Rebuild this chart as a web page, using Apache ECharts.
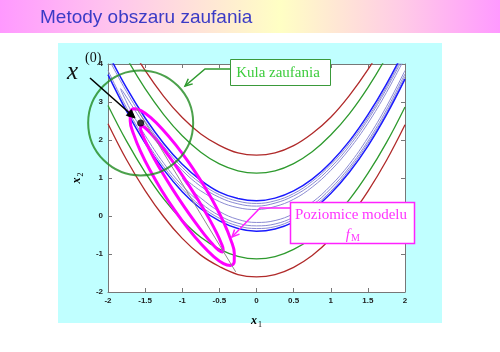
<!DOCTYPE html>
<html>
<head>
<meta charset="utf-8">
<script src="https://cdn.jsdelivr.net/npm/echarts@6/dist/echarts.min.js"></script>
<style>
html, body { margin: 0; padding: 0; background: #fff; }
#chart { width: 500px; height: 352px; }
</style>
</head>
<body>
<div id="chart"></div>
<script>
// wartosci x1, w ktorych odczytano poziomice
var x1Grid = [-2, -1.75, -1.5, -1.25, -1, -0.75, -0.5, -0.25, 0, 0.25, 0.5, 0.75, 1, 1.25, 1.5, 1.75, 2];

// poziomice funkcji
var redUpper   = [5.57, 4.64, 3.83, 3.15, 2.59, 2.16, 1.86, 1.66, 1.60, 1.66, 1.85, 2.17, 2.60, 3.17, 3.85, 4.66, 5.60];
var redLower   = [2.43, 1.48, 0.67, -0.02, -0.59, -1.03, -1.33, -1.54, -1.60, -1.54, -1.35, -1.04, -0.60, -0.04, 0.65, 1.46, 2.40];
var greenUpper = [5.09, 4.16, 3.35, 2.67, 2.11, 1.68, 1.37, 1.19, 1.13, 1.19, 1.38, 1.69, 2.13, 2.69, 3.38, 4.19, 5.13];
var greenLower = [2.91, 1.97, 1.15, 0.45, -0.11, -0.56, -0.87, -1.06, -1.13, -1.07, -0.88, -0.57, -0.13, 0.43, 1.12, 1.93, 2.87];
var blueUpper  = [4.28, 3.37, 2.58, 1.91, 1.36, 0.94, 0.63, 0.46, 0.40, 0.47, 0.66, 0.97, 1.41, 1.97, 2.66, 3.47, 4.40];
var blueLower  = [3.72, 2.76, 1.92, 1.22, 0.64, 0.19, -0.13, -0.33, -0.40, -0.34, -0.16, 0.15, 0.59, 1.15, 1.84, 2.66, 3.60];
var lavUpper   = [4.17, 3.27, 2.49, 1.83, 1.28, 0.86, 0.56, 0.39, 0.33, 0.40, 0.59, 0.91, 1.35, 1.91, 2.59, 3.40, 4.33];
var lavLower   = [3.83, 2.85, 2.01, 1.30, 0.72, 0.26, -0.06, -0.26, -0.33, -0.28, -0.09, 0.22, 0.65, 1.22, 1.91, 2.72, 3.67];

// zamkniete "banany" w dolinie
var loopAX = [2, 1.75, 1.5, 1.25, 1, 0.75, 0.5, 0.25, 0, -0.25, -0.5, -0.75, -1, -1.25, -1.5, -1.65, -1.8, -1.83, -1.8, -1.65, -1.5, -1.25, -1, -0.75, -0.5, -0.25, 0, 0.25, 0.5, 0.75, 1, 1.25, 1.5, 1.75, 2];
var loopAY = [4.26, 3.34, 2.53, 1.84, 1.28, 0.84, 0.53, 0.34, 0.26, 0.32, 0.49, 0.78, 1.20, 1.73, 2.38, 2.82, 3.28, 3.35, 3.20, 2.62, 2.12, 1.39, 0.80, 0.34, 0.01, -0.19, -0.26, -0.21, -0.03, 0.28, 0.72, 1.28, 1.97, 2.79, 3.74];
var loopBX = [2, 1.75, 1.5, 1.25, 1, 0.75, 0.5, 0.25, 0, -0.25, -0.5, -0.75, -0.85, -0.95, -1, -0.95, -0.85, -0.75, -0.5, -0.25, 0, 0.25, 0.5, 0.75, 1, 1.25, 1.5, 1.75, 2];
var loopBY = [4.17, 3.25, 2.44, 1.76, 1.20, 0.76, 0.44, 0.25, 0.17, 0.22, 0.38, 0.66, 0.80, 0.95, 1.00, 0.86, 0.65, 0.47, 0.12, -0.09, -0.17, -0.12, 0.06, 0.36, 0.80, 1.36, 2.06, 2.88, 3.83];

// poziomice modelu f_M
var outerX = [-0.723, -0.901, -1.085, -1.264, -1.424, -1.556, -1.65, -1.700, -1.701, -1.655, -1.565, -1.436, -1.277, -1.099, -0.915, -0.736, -0.576, -0.444, -0.35, -0.300, -0.299, -0.345, -0.435, -0.564, -0.723];
var outerY = [0.847, 1.377, 1.865, 2.278, 2.588, 2.773, 2.82, 2.727, 2.500, 2.155, 1.715, 1.209, 0.673, 0.143, -0.345, -0.758, -1.068, -1.253, -1.30, -1.207, -0.980, -0.635, -0.195, 0.311, 0.847];
var innerX = [-0.891, -1.035, -1.178, -1.309, -1.420, -1.502, -1.550, -1.561, -1.534, -1.471, -1.377, -1.257, -1.120, -0.975, -0.832, -0.701, -0.590, -0.508, -0.460, -0.449, -0.476, -0.539, -0.633, -0.753, -0.891];
var innerY = [0.746, 1.174, 1.571, 1.909, 2.166, 2.323, 2.370, 2.304, 2.129, 1.858, 1.509, 1.105, 0.674, 0.246, -0.151, -0.490, -0.746, -0.903, -0.950, -0.884, -0.710, -0.438, -0.089, 0.315, 0.746];

var axisX = [-1.62, -0.28];
var axisY = [2.85, -1.47];

var startPoint = [-1.56, 2.45];   // x(0)

function pairs(xs, ys) {
    var out = [];
    for (var i = 0; i < xs.length; i++) {
        out.push([xs[i], ys[i]]);
    }
    return out;
}

function contour(name, xs, ys, color, width) {
    return {
        name: name,
        type: 'line',
        data: pairs(xs, ys),
        smooth: 0.4,
        symbol: 'none',
        silent: true,
        lineStyle: {color: color, width: width},
        z: 2
    };
}

var myChart = echarts.init(document.getElementById('chart'));

var tickStyle = {margin: 5, fontSize: 8, fontWeight: 'bold', color: '#222', fontFamily: 'Liberation Sans'};
var lineGray = {color: '#777', width: 1};
var nameRich = {
    i: {fontFamily: 'Liberation Serif', fontStyle: 'italic', fontWeight: 'bold', fontSize: 12, color: '#000'},
    s: {fontFamily: 'Liberation Serif', fontSize: 8, color: '#000', padding: [8, 0, 0, 1]}
};

option = {
    animation: false,
    backgroundColor: '#fff',
    grid: {left: 108, top: 64, width: 297, height: 228, show: true, backgroundColor: '#fff', borderWidth: 0},
    xAxis: [
        {
            type: 'value', min: -2, max: 2, interval: 0.5, position: 'bottom',
            axisLine: {show: true, onZero: false, lineStyle: lineGray},
            axisTick: {show: true, inside: true, length: 4, lineStyle: lineGray},
            axisLabel: tickStyle,
            splitLine: {show: false},
            name: '{i|x}{s|1}', nameLocation: 'middle', nameGap: 21,
            nameTextStyle: {rich: nameRich}
        },
        {
            type: 'value', min: -2, max: 2, interval: 0.5, position: 'top',
            axisLine: {show: true, onZero: false, lineStyle: lineGray},
            axisTick: {show: true, inside: true, length: 4, lineStyle: lineGray},
            axisLabel: {show: false},
            splitLine: {show: false}
        }
    ],
    yAxis: [
        {
            type: 'value', min: -2, max: 4, interval: 1, position: 'left',
            axisLine: {show: true, onZero: false, lineStyle: lineGray},
            axisTick: {show: true, inside: true, length: 4, lineStyle: lineGray},
            axisLabel: tickStyle,
            splitLine: {show: false},
            name: '{i|x}{s|2}', nameLocation: 'middle', nameGap: 22, nameRotate: 90,
            nameTextStyle: {rich: nameRich}
        },
        {
            type: 'value', min: -2, max: 4, interval: 1, position: 'right',
            axisLine: {show: true, onZero: false, lineStyle: lineGray},
            axisTick: {show: true, inside: true, length: 4, lineStyle: lineGray},
            axisLabel: {show: false},
            splitLine: {show: false}
        }
    ],
    series: [
        contour('red1', x1Grid, redUpper, '#b02a2a', 1.3),
        contour('red2', x1Grid, redLower, '#b02a2a', 1.3),
        contour('green1', x1Grid, greenUpper, '#2e9a2e', 1.3),
        contour('green2', x1Grid, greenLower, '#2e9a2e', 1.3),
        contour('lav1', x1Grid, lavUpper, '#8a8ad2', 1),
        contour('lav2', x1Grid, lavLower, '#8a8ad2', 1),
        contour('lav3', loopAX, loopAY, '#8a8ad2', 1),
        contour('lav4', loopBX, loopBY, '#8a8ad2', 1),
        contour('blue1', x1Grid, blueUpper, '#1a1aff', 1.5),
        contour('blue2', x1Grid, blueLower, '#1a1aff', 1.5),
        {
            name: 'axis', type: 'line', data: pairs(axisX, axisY), symbol: 'none', silent: true,
            lineStyle: {color: '#8c8c8c', width: 1}, z: 3
        },
        contour('outer', outerX, outerY, '#ff00ff', 3),
        contour('inner', innerX, innerY, '#ff00ff', 3),
        {
            name: 'kula', type: 'scatter', data: [startPoint], symbol: 'circle', symbolSize: 105,
            clip: false, silent: true,
            itemStyle: {color: 'rgba(0,0,0,0)', borderColor: '#1f8a1f', borderWidth: 2}, z: 5
        },
        {
            name: 'x0', type: 'scatter', data: [startPoint], symbol: 'circle', symbolSize: 7,
            silent: true, itemStyle: {color: '#000'}, z: 6
        }
    ],
    graphic: [
        {
            type: 'rect', z: -10, silent: true,
            shape: {x: 0, y: 0, width: 500, height: 33},
            style: {fill: new echarts.graphic.LinearGradient(0, 0, 1, 0, [
                {offset: 0, color: '#ff99ff'},
                {offset: 0.22, color: '#ffc4ee'},
                {offset: 0.56, color: '#ffffc4'},
                {offset: 0.8, color: '#ffcce6'},
                {offset: 1, color: '#ff99ff'}
            ])}
        },
        {
            type: 'rect', z: -10, silent: true,
            shape: {x: 58, y: 43, width: 384, height: 280},
            style: {fill: '#c0ffff'}
        },
        {
            type: 'text', z: 10, silent: true,
            style: {text: 'Metody obszaru zaufania', x: 40, y: 18, textVerticalAlign: 'middle', verticalAlign: 'middle',
                    font: '19px "Liberation Sans", Arial, sans-serif', fill: '#3b3bc6'}
        },
        // Kula zaufania
        {
            type: 'rect', z: 100, silent: true,
            shape: {x: 230.5, y: 59.5, width: 100, height: 26},
            style: {fill: '#fff', stroke: '#3a9a3a', lineWidth: 1}
        },
        {
            type: 'text', z: 101, silent: true,
            style: {text: 'Kula zaufania', x: 278, y: 73, textAlign: 'center', align: 'center',
                    textVerticalAlign: 'middle', verticalAlign: 'middle',
                    font: '15px "Liberation Serif", serif', fill: '#3ccc3c'}
        },
        {
            type: 'polyline', z: 100, silent: true,
            shape: {points: [[230, 69], [205, 69], [185, 86]]},
            style: {stroke: '#2e9a2e', lineWidth: 1.5, fill: null}
        },
        {
            type: 'polyline', z: 100, silent: true,
            shape: {points: [[192.7, 83.9], [185, 86], [188.3, 78.7]]},
            style: {stroke: '#2e9a2e', lineWidth: 1.5, fill: null}
        },
        // Poziomice modelu
        {
            type: 'rect', z: 100, silent: true,
            shape: {x: 290.5, y: 202.5, width: 124, height: 41},
            style: {fill: '#fff', stroke: '#ff22ff', lineWidth: 1.5}
        },
        {
            type: 'text', z: 101, silent: true,
            style: {text: 'Poziomice modelu', x: 351, y: 215, textAlign: 'center', align: 'center',
                    textVerticalAlign: 'middle', verticalAlign: 'middle',
                    font: '15px "Liberation Serif", serif', fill: '#ff33ff'}
        },
        {
            type: 'text', z: 101, silent: true,
            style: {text: 'f', x: 350, y: 235, textAlign: 'right', align: 'right',
                    textVerticalAlign: 'middle', verticalAlign: 'middle',
                    font: 'italic 15px "Liberation Serif", serif', fill: '#ff33ff'}
        },
        {
            type: 'text', z: 101, silent: true,
            style: {text: 'M', x: 351, y: 238.5, textAlign: 'left', align: 'left',
                    textVerticalAlign: 'middle', verticalAlign: 'middle',
                    font: '10px "Liberation Serif", serif', fill: '#ff33ff'}
        },
        {
            type: 'polyline', z: 100, silent: true,
            shape: {points: [[290, 208], [260, 208], [232, 237]]},
            style: {stroke: '#ff22ff', lineWidth: 1.5, fill: null}
        },
        {
            type: 'polyline', z: 100, silent: true,
            shape: {points: [[239.5, 234.1], [232, 237], [234.6, 229.4]]},
            style: {stroke: '#ff22ff', lineWidth: 1.5, fill: null}
        },
        // x(0)
        {
            type: 'text', z: 101, silent: true,
            style: {text: 'x', x: 67, y: 72, textVerticalAlign: 'middle', verticalAlign: 'middle',
                    font: 'italic 25px "Liberation Serif", serif', fill: '#111'}
        },
        {
            type: 'text', z: 101, silent: true,
            style: {text: '(0)', x: 85, y: 58, textVerticalAlign: 'middle', verticalAlign: 'middle',
                    font: '14px "Liberation Serif", serif', fill: '#111'}
        },
        {
            type: 'line', z: 100, silent: true,
            shape: {x1: 90, y1: 78, x2: 134, y2: 117},
            style: {stroke: '#000', lineWidth: 1.6}
        },
        {
            type: 'polygon', z: 100, silent: true,
            shape: {points: [[131.4, 109.7], [135, 118], [126.4, 115.4]]},
            style: {fill: '#000', stroke: '#000', lineWidth: 1}
        }
    ]
};

myChart.setOption(option);
</script>
</body>
</html>
